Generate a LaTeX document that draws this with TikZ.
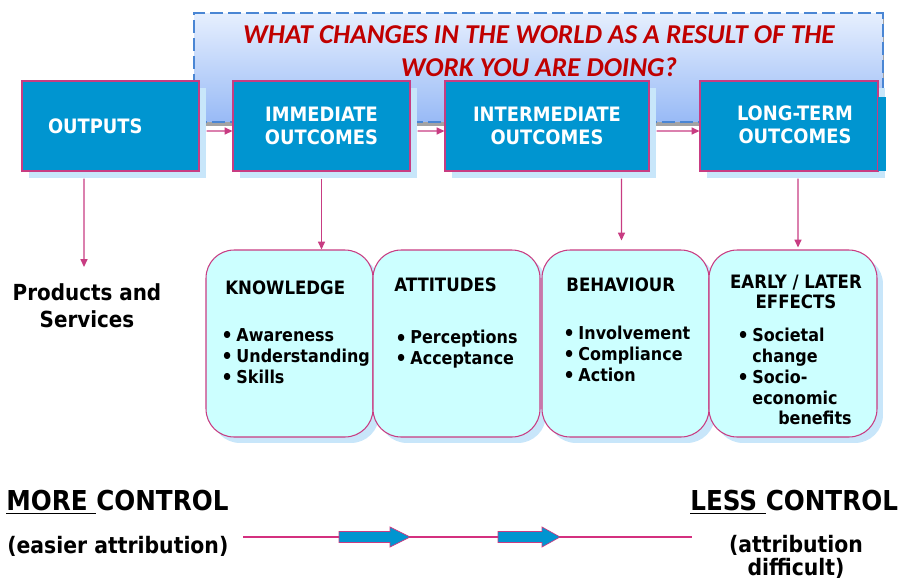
\documentclass[tikz,border=0pt]{standalone}
\usepackage{fontspec}
\setmainfont{DejaVu Sans Condensed}[BoldFont={DejaVu Sans Condensed Bold}]
\newfontfamily\headfont{Carlito}
\usetikzlibrary{arrows.meta,shadows}
\definecolor{boxblue}{HTML}{0095D0}
\definecolor{rimpink}{HTML}{C83C82}
\definecolor{shadowblue}{HTML}{C8E6FA}
\definecolor{paleaqua}{HTML}{CCFFFF}
\definecolor{bannertop}{HTML}{E6EFFE}
\definecolor{bannerbot}{HTML}{98BAF6}
\definecolor{bannerrim}{HTML}{4A86D4}
\definecolor{askred}{HTML}{C00000}
\definecolor{lineberry}{HTML}{D4307F}
\def\fatarrow[#1](#2)(#3:#4){\draw[#1] (#2) ++(0,-5.5) -- ++(#3,0) -- ++(0,-4.5) -- ++(#4,10) -- ++(-#4,10) -- ++(0,-4.5) -- ++(-#3,0) -- cycle;}
\def\itm#1{\makebox[8.6pt][l]{\raisebox{-0.7pt}{\fontsize{11.5}{11.9}\selectfont\textbullet}}#1}

\begin{document}
\begin{tikzpicture}[x=0.02cm, y=-0.02cm,
		banner/.style={draw=bannerrim, line width=1.1pt, dash pattern=on 0.26cm off 0.1cm, top color=bannertop, bottom color=bannerbot, minimum width=13.78cm, minimum height=2.18cm, drop shadow={shadow xshift=0.03cm, shadow yshift=-0.08cm, fill=black!60, opacity=0.6}},
		asktext/.style={inner sep=0pt, align=center, text=askred, font=\headfont\bfseries\itshape\fontsize{15.5}{18.7}\selectfont},
		bluebox/.style={draw=rimpink, line width=0.6pt, fill=boxblue, text=white, inner sep=0pt, minimum height=1.8cm, align=center, font=\bfseries\fontsize{11.3}{13}\selectfont, drop shadow={shadow xshift=0.14cm, shadow yshift=-0.14cm, fill=shadowblue, opacity=1}},
		boxtext/.style={inner sep=0pt, align=center, text=white, font=\bfseries\fontsize{11.3}{13}\selectfont},
		roundbox/.style={draw=rimpink, line width=0.6pt, fill=paleaqua, rounded corners=0.56cm, inner sep=0pt, minimum height=3.74cm, drop shadow={shadow xshift=0.12cm, shadow yshift=-0.12cm, fill=shadowblue, opacity=1}},
		heading/.style={inner sep=0pt, anchor=north west, align=left, font=\bfseries\fontsize{10.5}{11.3}\selectfont},
		items/.style={inner sep=0pt, anchor=north west, align=left, font=\bfseries\fontsize{10.1}{11.9}\selectfont},
		conn/.style={draw=rimpink, line width=0.8pt, -{Triangle[length=4.5pt,width=4pt]}},
		ctrltext/.style={inner sep=0pt, font=\bfseries\fontsize{15.6}{18}\selectfont},
		attrtext/.style={inner sep=0pt, align=center, font=\bfseries\fontsize{12.9}{13}\selectfont},
		ctrlline/.style={draw=lineberry, line width=1.1pt},
		pusharrow/.style={fill=boxblue, draw=rimpink, line width=0.4pt}]
	%%%%% START %%%%%
	\useasboundingbox (0,0) rectangle (904,579);
	
	\node[banner] (band) at (538.5,67.5) {};
	\node[asktext, anchor=north] (ask) at (539,25) {WHAT CHANGES IN THE WORLD AS A RESULT OF THE\\WORK YOU ARE DOING?};
	
	\node[bluebox, minimum width=3.54cm, text width=2.5cm, inner xsep=0.52cm, align=left] (outp) at (110.5,126) {OUTPUTS};
	\node[bluebox, minimum width=3.54cm] (imm) at (321.5,126) {IMMEDIATE\\OUTCOMES};
	\node[bluebox, minimum width=4.08cm] (inter) at (547,126) {INTERMEDIATE\\OUTCOMES};
	\node[bluebox, minimum width=3.56cm] (longt) at (789,126) {};
	\fill[boxblue] (878,97) rectangle (886,171);
	\node[boxtext] (longtxt) at (795,125) {LONG-TERM\\OUTCOMES};
	
	\draw[conn] (outp.east) ++(7,5) -- ([yshift=-0.1cm]imm.west);
	\draw[conn] (imm.east) ++(7,5) -- ([yshift=-0.1cm]inter.west);
	\draw[conn] (inter.east) ++(7,5) -- ([yshift=-0.1cm]longt.west);
	
	\node[inner sep=0pt, anchor=north, align=center, font=\bfseries\fontsize{12.6}{15.3}\selectfont] (prod) at (87,283) {Products and\\Services};
	
	\node[roundbox, minimum width=3.34cm] (know) at (289.5,343.5) {};
	\node[roundbox, minimum width=3.34cm] (att) at (456.5,343.5) {};
	\node[roundbox, minimum width=3.34cm] (behav) at (625.5,343.5) {};
	\node[roundbox, minimum width=3.36cm] (early) at (793,343.5) {};
	
	\draw[conn] (prod.north |- outp.south) ++(-3,7) -- ([xshift=-0.06cm, yshift=0.32cm]prod.north);
	\draw[conn] (imm.south) ++(0,7) -- (imm.south |- know.north);
	\draw[conn] (behav.north |- inter.south) ++(-4,7) -- ([xshift=-0.08cm, yshift=0.18cm]behav.north);
	\draw[conn] (early.north |- longt.south) ++(5,7) -- ([xshift=0.1cm, yshift=0.04cm]early.north);
	
	\node[heading] (knowhead) at (225,280) {KNOWLEDGE};
	\node[items] (knowlist) at (221,328) {\itm{Awareness}\\\itm{Understanding}\\\itm{Skills}};
	\node[heading] (atthead) at (394,277) {ATTITUDES};
	\node[items] (attlist) at (395,330) {\itm{Perceptions}\\\itm{Acceptance}};
	\node[heading] (behavhead) at (566,277) {BEHAVIOUR};
	\node[items] (behavlist) at (563,325.5) {\itm{Involvement}\\\itm{Compliance}\\\itm{Action}};
	\node[heading, anchor=north, align=center] (earlyhead) at (796,274.5) {EARLY / LATER\\EFFECTS};
	\node[items] (earlylist) at (737,327.5) {\itm{Societal}\\\hspace*{8.6pt}change\\\itm{Socio-}\\\hspace*{8.6pt}economic\\\hspace*{23.3pt}benefits};
	
	\node[ctrltext, anchor=north west] (more) at (6,490) {\underline{MORE }CONTROL};
	\node[attrtext, anchor=north west] (easy) at (7,535.5) {(easier attribution)};
	\node[ctrltext, anchor=north west] (less) at (690,490) {\underline{LESS }CONTROL};
	\node[attrtext, anchor=north] (hard) at (796,534.7) {(attribution\\difficult)};
	
	\coordinate (lstart) at (243,537);
	\coordinate (lend) at (692,537);
	\draw[ctrlline] (lstart) -- (lend);
	\coordinate (push1) at (339,537);
	\coordinate (push2) at (498,537);
	\fatarrow[pusharrow](push1)(51:20)
	\fatarrow[pusharrow](push2)(44:18)
	
	%%%%% END %%%%%
\end{tikzpicture}
\end{document}
